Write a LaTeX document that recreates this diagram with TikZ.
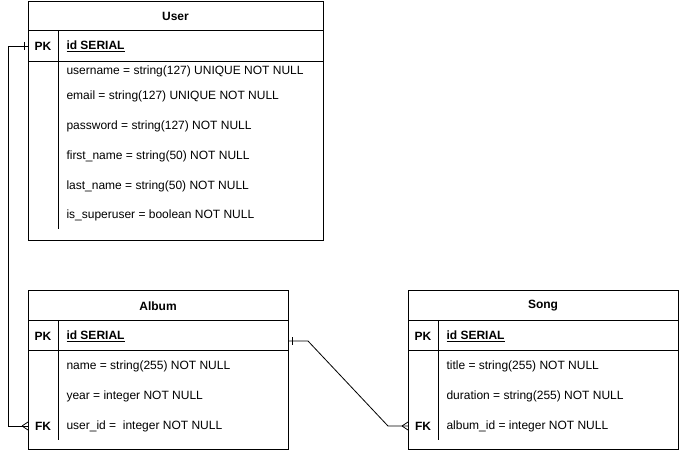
\documentclass[tikz,border=0pt]{standalone}
\usepackage{fontspec}
\setmainfont{Liberation Sans}
\begin{document}
\begin{tikzpicture}[x=1pt,y=-1pt,line width=1pt,
  tbl/.style={draw,inner sep=0,anchor=north west},
  fld/.style={anchor=west,inner sep=0,font=\fontsize{12}{14}\selectfont},
  keyc/.style={anchor=center,inner sep=0,font=\fontsize{12}{14}\selectfont\bfseries},
  ttl/.style={anchor=center,inner sep=0,font=\fontsize{12}{14}\selectfont\bfseries},
  conn/.style={draw,line width=0.8pt}]
\useasboundingbox (0,0) rectangle (679,452);
% ---- User ----
\node[tbl,minimum width=295,minimum height=239] (user) at (28,1) {};
\draw (28,31) -- (323,31);
\draw (28,61) -- (323,61);
\draw (58,31) -- (58,229);
\node[ttl] (userT) at (175.5,16) {User};
\node[keyc] (userPK) at (43,46) {PK};
\node[fld,font=\fontsize{12}{14}\selectfont\bfseries] (userId) at (66,46) {\underline{id SERIAL}};
\node[fld] (u1) at (66,71) {username = string(127) UNIQUE NOT NULL};
\node[fld] (u2) at (66,96) {email = string(127) UNIQUE NOT NULL};
\node[fld] (u3) at (66,126) {password = string(127) NOT NULL};
\node[fld] (u4) at (66,156) {first\_name = string(50) NOT NULL};
\node[fld] (u5) at (66,186) {last\_name = string(50) NOT NULL};
\node[fld] (u6) at (66,215) {is\_superuser = boolean NOT NULL};
% ---- Album ----
\node[tbl,minimum width=260,minimum height=159] (album) at (28,290) {};
\draw (28,320) -- (288,320);
\draw (28,350) -- (288,350);
\draw (58,320) -- (58,440);
\node[ttl] (albumT) at (158,306) {Album};
\node[keyc] (albumPK) at (43,336) {PK};
\node[fld,font=\fontsize{12}{14}\selectfont\bfseries] (albumId) at (66,336) {\underline{id SERIAL}};
\node[fld] (a1) at (66,366) {name = string(255) NOT NULL};
\node[fld] (a2) at (66,396) {year = integer NOT NULL};
\node[keyc] (albumFK) at (43,426) {FK};
\node[fld] (a3) at (66,426) {user\_id =\ \ integer NOT NULL};
% ---- Song ----
\node[tbl,minimum width=270,minimum height=159] (song) at (408,290) {};
\draw (408,320) -- (678,320);
\draw (408,350) -- (678,350);
\draw (438,320) -- (438,440);
\node[ttl] (songT) at (543,306) {Song};
\node[keyc] (songPK) at (423,336) {PK};
\node[fld,font=\fontsize{12}{14}\selectfont\bfseries] (songId) at (446,336) {\underline{id SERIAL}};
\node[fld] (s1) at (446,366) {title = string(255) NOT NULL};
\node[fld] (s2) at (446,396) {duration = string(255) NOT NULL};
\node[keyc] (songFK) at (423,426) {FK};
\node[fld] (s3) at (446,426) {album\_id = integer NOT NULL};
% ---- connectors ----
\coordinate (c1a) at (user.west |- userPK);
\coordinate (c1b) at (album.west |- albumFK);
\draw[conn] (c1a) -- ++(-20,0) |- (c1b);
\draw[conn] ([xshift=-4]c1a) ++(0,-4) -- ++(0,8);
\draw[conn] ([xshift=-6]c1b) -- ([yshift=-4]c1b) ([xshift=-6]c1b) -- ([yshift=4]c1b);
\coordinate (c2a) at ([yshift=5]album.west -| album.east);
\coordinate (c2a) at (288,341);
\coordinate (c2b) at (song.west |- songFK);
\draw[conn] (c2a) -- ++(20,0) -- ([xshift=-20]c2b) -- (c2b);
\draw[conn] ([xshift=4]c2a) ++(0,-4) -- ++(0,8);
\draw[conn] ([xshift=-6]c2b) -- ([yshift=-4]c2b) ([xshift=-6]c2b) -- ([yshift=4]c2b);
\end{tikzpicture}
\end{document}
